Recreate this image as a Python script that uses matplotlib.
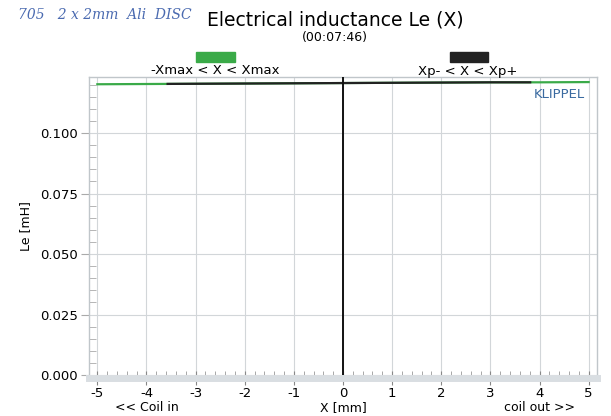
import matplotlib
matplotlib.use("Agg")
import matplotlib.pyplot as plt
from matplotlib.ticker import MultipleLocator
from matplotlib.patches import Rectangle
import numpy as np

plt.rcParams["axes.unicode_minus"] = False

# Data
x_mm = [-5.0, -4.0, -3.0, -2.0, -1.0, 0.0, 1.0, 2.0, 3.0, 4.0, 5.0]
le_mH = [0.1202, 0.1203, 0.1204, 0.1205, 0.1206, 0.1207, 0.1208, 0.1209, 0.1210, 0.1210, 0.1211]
xmax_lo, xmax_hi = -3.57, 3.81   # black (Xp- < X < Xp+) range
xticks = [-5, -4, -3, -2, -1, 0, 1, 2, 3, 4, 5]
yticks = [0.000, 0.025, 0.050, 0.075, 0.100]

x = np.array(x_mm)
y = np.array(le_mH)

fig = plt.figure(figsize=(6.11, 4.16), dpi=100)
ax = fig.add_axes([89/611, 1-375/416, (597-89)/611, (375-77)/416])

ax.set_xlim(-5.17, 5.17)
ax.set_ylim(0.0, 0.1232)

green = "#3aaa48"
ax.plot(x, y, color=green, lw=1.6, zorder=3)
mask_x = np.concatenate(([xmax_lo], x[(x > xmax_lo) & (x < xmax_hi)], [xmax_hi]))
mask_y = np.interp(mask_x, x, y)
ax.plot(mask_x, mask_y, color="#222222", lw=1.6, zorder=4)
ax.axvline(0, color="#111111", lw=1.4, zorder=4)

ax.set_xticks(xticks)
ax.set_yticks(yticks)
ax.set_yticklabels([f"{v:.3f}" for v in yticks])
ax.xaxis.set_minor_locator(MultipleLocator(0.2))
ax.yaxis.set_minor_locator(MultipleLocator(0.005))
ax.grid(True, which="major", color="#d2d6d9", lw=0.8, zorder=1)
ax.tick_params(axis="x", which="major", direction="inout", length=10, color="#888888", labelsize=9.5, pad=1.5)
ax.tick_params(axis="x", which="minor", direction="in", length=5, color="#999999")
ax.tick_params(axis="y", which="major", direction="out", length=6, color="#aaaaaa", labelsize=9.5, pad=2)
ax.tick_params(axis="y", which="minor", direction="in", length=5, color="#aaaaaa")
for s in ["top", "right", "left"]:
    ax.spines[s].set_color("#c0c6ca")
    ax.spines[s].set_linewidth(1.0)
ax.spines["bottom"].set_color("#d9dee2")
ax.spines["bottom"].set_linewidth(5)
ax.spines["bottom"].set_position(("outward", 2))

ax.set_ylabel("Le [mH]", fontsize=9, labelpad=6)
ax.set_xlabel("X [mm]", fontsize=9)
ax.xaxis.set_label_coords(0.5, -(401-375)/298)
ax.text(-4.0, -0.01323, "<< Coil in", fontsize=9, ha="center", va="center")
ax.text(4.0, -0.01323, "coil out >>", fontsize=9, ha="center", va="center")
ax.text(4.93, 0.1188, "KLIPPEL", fontsize=9.5, color="#3a6aa0", ha="right", va="top")

fig.text(335/611, 1-20/416, "Electrical inductance Le (X)", fontsize=13.5, ha="center", va="center")
fig.text(335/611, 1-38/416, "(00:07:46)", fontsize=9, ha="center", va="center")
fig.text(18/611, 1-15/416, "705   2 x 2mm  Ali  DISC", fontsize=10, style="italic",
         color="#4a6ab0", ha="left", va="center", family="DejaVu Serif")

# legend patches
fig.patches.append(Rectangle((196/611, 1-62/416), 39/611, 10/416, transform=fig.transFigure,
                             color=green, figure=fig))
fig.text(215/611, 1-71/416, "-Xmax < X < Xmax", fontsize=9.5, ha="center", va="center")
fig.patches.append(Rectangle((450/611, 1-62/416), 38/611, 10/416, transform=fig.transFigure,
                             color="#222222", figure=fig))
fig.text(468/611, 1-71/416, "Xp- < X < Xp+", fontsize=9.5, ha="center", va="center")

fig.savefig("out.png", dpi=100)
